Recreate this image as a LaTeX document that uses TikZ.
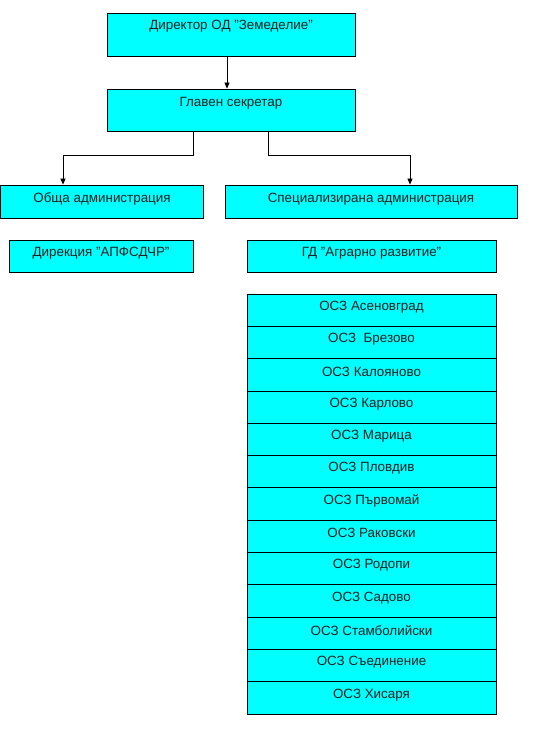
\documentclass[tikz,border=0pt]{standalone}
\usepackage{fontspec}
\setmainfont{Liberation Sans}
\usetikzlibrary{arrows.meta,calc}
\definecolor{boxcyan}{HTML}{00FFFF}
\definecolor{txt}{HTML}{202020}
\begin{document}
\begin{tikzpicture}[x=1pt,y=-1pt,
  box/.style={draw=black,line width=0.8pt,fill=boxcyan,inner sep=0pt,rectangle},
  lbl/.style={font=\fontsize{13.4}{15}\selectfont,text=txt,inner sep=0pt},
  arr/.style={draw=black,line width=0.7pt,-{Triangle[length=6pt,width=5pt]}}]
\useasboundingbox (0,0) rectangle (550,753);
% boxes
\node[box,minimum width=248pt,minimum height=43pt] (dir) at (231,34.5) {};
\node[lbl] (dirt) at (231,26) {Директор ОД "Земеделие"};
\node[box,minimum width=248pt,minimum height=42pt] (sec) at (231,110) {};
\node[lbl] (sect) at (231,103) {Главен секретар};
\node[box,minimum width=203pt,minimum height=33pt] (obs) at (102,201.5) {};
\node[lbl] (obst) at (102,199) {Обща администрация};
\node[box,minimum width=292pt,minimum height=33pt] (spe) at (371,201.5) {};
\node[lbl] (spet) at (371,199) {Специализирана администрация};
\node[box,minimum width=184pt,minimum height=32pt] (dirk) at (101,256) {};
\node[lbl] (dirkt) at (101,253) {Дирекция "АПФСДЧР"};
\node[box,minimum width=249pt,minimum height=32pt] (gd) at (371.5,256) {};
\node[lbl] (gdt) at (371.5,253) {ГД "Аграрно развитие"};
% OSZ list
\foreach \t [count=\i from 0] in {ОСЗ Асеновград,ОСЗ\ \ Брезово,ОСЗ Калояново,ОСЗ Карлово,ОСЗ Марица,ОСЗ Пловдив,ОСЗ Първомай,ОСЗ Раковски,ОСЗ Родопи,ОСЗ Садово,ОСЗ Стамболийски,ОСЗ Съединение,ОСЗ Хисаря}{
  \node[box,minimum width=249pt,minimum height=32.31pt] (osz\i) at (371.5,{294+32.31*(\i+0.5)}) {};
  \node[lbl] (oszt\i) at (371.5,{294+32.31*\i+13}) {\t};
}
% connectors
\draw[arr] ([xshift=-4pt]dir.south) -- ([xshift=-4pt]sec.north);
\coordinate (lj) at (193,155);
\coordinate (rj) at (268,155);
\draw[arr] (193,0 |- sec.south) -- (lj) -- (63,155) -- (63,0 |- obs.north);
\draw[arr] (268,0 |- sec.south) -- (rj) -- (410,155) -- (410,0 |- spe.north);
\end{tikzpicture}
\end{document}
